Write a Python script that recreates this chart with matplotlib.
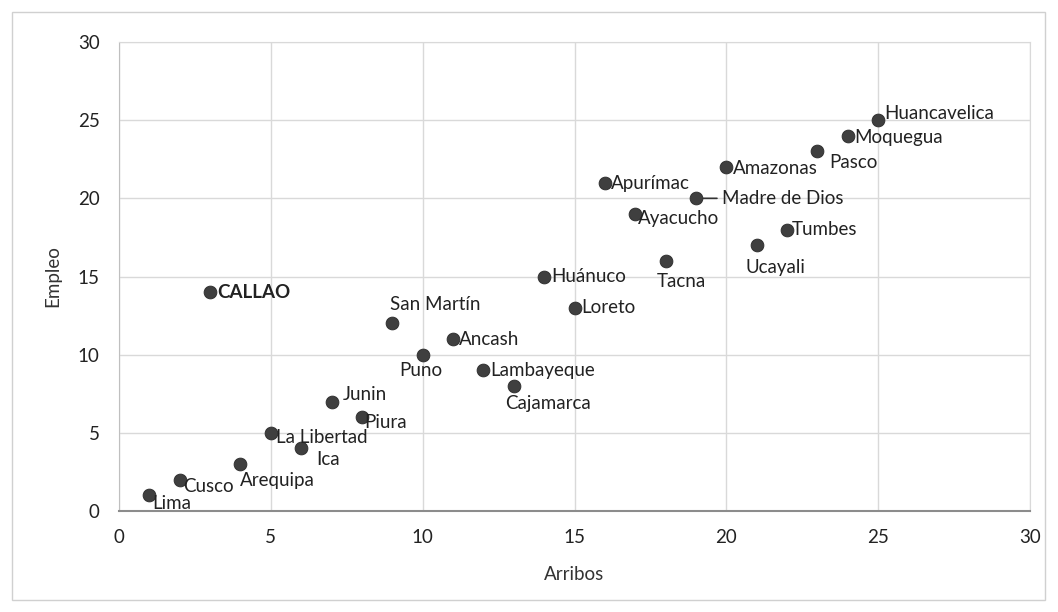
import matplotlib.pyplot as plt
import matplotlib.patches as mpatches

# Regional data: arrivals vs employment
regions = ["Lima", "Cusco", "Arequipa", "La Libertad", "Ica", "Junin", "Piura",
           "San Martín", "Puno", "Ancash", "Lambayeque", "Cajamarca", "CALLAO",
           "Huánuco", "Loreto", "Apurímac", "Ayacucho", "Tacna", "Madre de Dios",
           "Amazonas", "Ucayali", "Tumbes", "Pasco", "Moquegua", "Huancavelica"]
arribos = [1, 2, 4, 5, 6, 7, 8, 9, 10, 11, 12, 13, 3,
           14, 15, 16, 17, 18, 19, 20, 21, 22, 23, 24, 25]
empleo = [1, 2, 3, 5, 4, 7, 6, 12, 10, 11, 9, 8, 14,
          15, 13, 21, 19, 16, 20, 22, 17, 18, 23, 24, 25]

x_ticks = [0, 5, 10, 15, 20, 25, 30]
y_ticks = [0, 5, 10, 15, 20, 25, 30]

# label placement (pixel offsets from the point, horizontal alignment)
label_pos = {
    "Lima": (3, -8, "left"), "Cusco": (3, -7, "left"), "Arequipa": (-1, -16, "left"),
    "La Libertad": (5, -5, "left"), "Ica": (15, -11, "left"), "Junin": (11, 7, "left"),
    "Piura": (2, -5, "left"), "San Martín": (-2, 19, "left"), "Puno": (-2, -16, "center"),
    "Ancash": (6, 0, "left"), "Lambayeque": (7, 0, "left"), "Cajamarca": (-9, -18, "left"),
    "CALLAO": (7, 0, "left"), "Huánuco": (7, 0, "left"), "Loreto": (7, 0, "left"),
    "Apurímac": (6, -1, "left"), "Ayacucho": (3, -5, "left"), "Tacna": (-9, -21, "left"),
    "Madre de Dios": (26, 0, "left"), "Amazonas": (7, -1, "left"), "Ucayali": (-11, -22, "left"),
    "Tumbes": (5, 0, "left"), "Pasco": (12, -11, "left"), "Moquegua": (6, -2, "left"),
    "Huancavelica": (6, 7, "left"),
}

plt.rcParams['font.family'] = ['Lato', 'DejaVu Sans']

fig = plt.figure(figsize=(10.58, 6.12), dpi=100)
ax = fig.add_axes([119 / 1058, 1 - 511 / 612, (1030 - 119) / 1058, (511 - 42) / 612])

# chart border
fig.patches.append(mpatches.Rectangle((12 / 1058, 1 - 600 / 612), 1033 / 1058, 588 / 612,
                                      transform=fig.transFigure, fill=False,
                                      edgecolor='#d0d0d0', lw=1))

ax.scatter(arribos, empleo, s=85, color='#3f3f3f', edgecolors='#2a2a2a', lw=0.6, zorder=3)

for name, xv, yv in zip(regions, arribos, empleo):
    dx, dy, ha = label_pos[name]
    weight = 'bold' if name == "CALLAO" else 'normal'
    ax.annotate(name, (xv, yv), xytext=(dx, dy), textcoords='offset pixels',
                ha=ha, va='center', fontsize=13.5, color='#222222', fontweight=weight,
                zorder=4)
    if name == "Madre de Dios":
        ax.annotate("", (xv, yv), xytext=(dx - 5, dy), textcoords='offset pixels',
                    arrowprops=dict(arrowstyle='-', color='#333333', lw=1.2,
                                    shrinkA=0, shrinkB=5))

ax.set_xlim(0, 30)
ax.set_ylim(0, 30)
ax.set_xticks(x_ticks)
ax.set_yticks(y_ticks)
ax.grid(True, color='#d9d9d9', lw=1)
ax.set_axisbelow(True)
for side in ['top', 'right']:
    ax.spines[side].set_color('#d9d9d9')
ax.spines['left'].set_color('#bfbfbf')
ax.spines['bottom'].set_color('#8c8c8c')
ax.spines['bottom'].set_linewidth(1.5)
ax.tick_params(axis='x', length=0, labelsize=13.5, colors='#222222', pad=13)
ax.tick_params(axis='y', length=0, labelsize=13.5, colors='#222222', pad=14)

ax.set_xlabel("Arribos", fontsize=13.5, color='#333333', labelpad=14)
ax.set_ylabel("Empleo", fontsize=13.5, color='#333333', labelpad=12)

fig.savefig("out.png", dpi=100)
